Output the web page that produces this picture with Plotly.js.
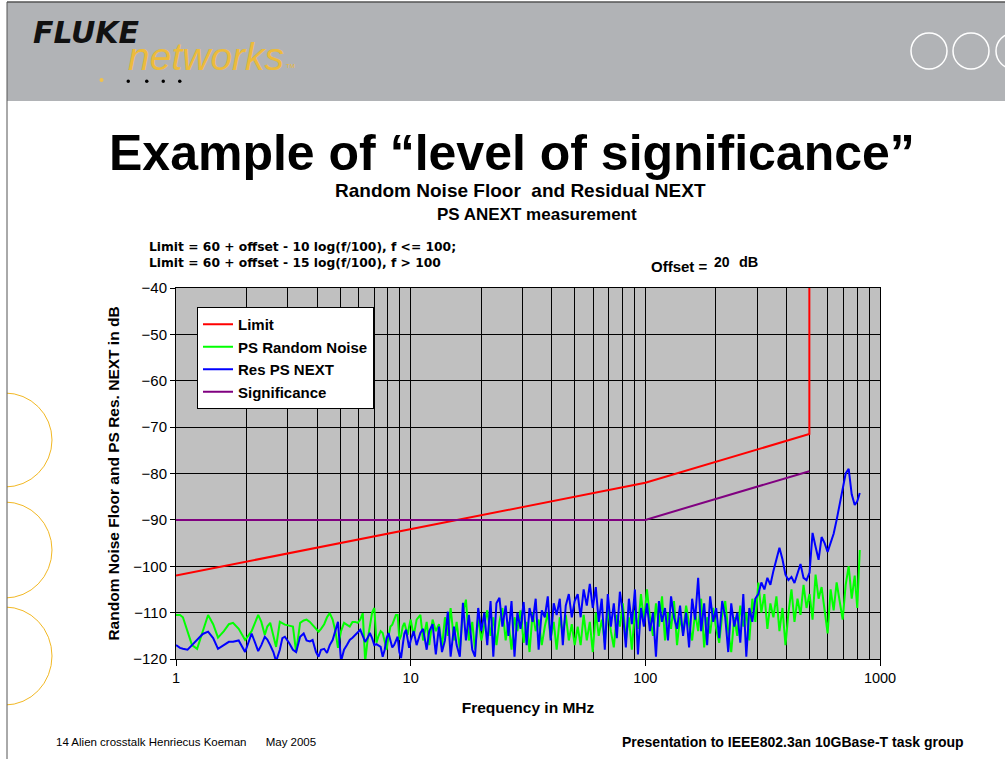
<!DOCTYPE html>
<html>
<head>
<meta charset="utf-8">
<script src="https://cdn.plot.ly/plotly-3.0.1.min.js"></script>
<style>html,body{margin:0;padding:0;background:#fff;}#chart{width:1005px;height:759px;}</style>
</head>
<body>
<div id="chart"></div>
<script>
// ---------------- DATA ----------------
const freqMHz = [
  1, 1.04, 1.07, 1.12, 1.17, 1.23, 1.3, 1.37, 1.44, 1.51,
  1.6, 1.68, 1.75, 1.85, 1.97, 2.1, 2.24, 2.31, 2.39, 2.45,
  2.52, 2.6, 2.67, 2.77, 2.84, 2.91, 3.03, 3.15, 3.25, 3.38,
  3.5, 3.6, 3.72, 3.82, 3.95, 4.05, 4.15, 4.28, 4.4, 4.52,
  4.65, 4.78, 4.9, 5.05, 5.2, 5.35, 5.5, 5.65, 5.8, 5.95,
  6.1, 6.25, 6.4, 6.55, 6.7, 6.85, 7.0, 7.15, 7.3, 7.45,
  7.6, 7.75, 7.9, 8.05, 8.2, 8.35, 8.5, 8.65, 8.8, 8.95,
  9.1, 9.25, 9.4, 9.55, 9.7, 9.85, 10,
  10.3, 10.6, 11, 11.3, 11.7, 12, 12.4, 12.8, 13.2, 13.6,
  14, 14.4, 14.8, 15.3, 15.7, 16.2, 16.7, 17.2, 17.7, 18.3,
  18.8, 19.4, 20,
  20.6, 21.2, 21.9, 22.5, 23.2, 23.9, 24.6, 25.4, 26.1, 26.9,
  27.7, 28.5, 29.4, 30.3, 31.2, 32.1, 33.1, 34.1, 35.1, 36.2,
  37.3, 38.4, 39.5, 40.7, 41.9, 43.2, 44.5, 45.8, 47.2, 48.6,
  50,
  51.5, 53, 54.6, 56.3, 58, 59.7, 61.5, 63.3, 65.2, 67.2,
  69.2, 71.3, 73.4, 75.6, 77.9, 80.2, 82.6, 85.1, 87.6, 90.3,
  93, 95.8, 98.6,
  101.6, 104.6, 107.8, 111, 114.3, 117.8, 121.3, 124.9, 128.7, 132.5,
  136.5, 140.6, 144.8, 149.2, 153.6, 158.3, 163, 167.9, 172.9, 178.1,
  183.4, 188.9, 194.6, 200.4, 206.4, 212.6, 219, 225.6, 232.3, 239.3,
  246.5, 253.9, 261.5, 269.3, 277.4, 285.7, 294.3,
  303.1, 312.2, 321.6, 331.2, 341.1, 351.4, 361.9, 372.8, 384, 395.5,
  407.3, 419.5, 432.1, 445.1, 458.4, 472.2, 486.3, 500.9, 515.9, 531.4,
  547.4, 563.8, 580.7, 598.1, 616, 634.5, 653.5, 673.1, 693.3, 714.1,
  735.5, 757.6, 780.3, 800, 820
];

const psRandomNoise = [
  -110.5, -110.5, -111, -114, -117, -117.8, -114, -110.5, -112.5, -115.4,
  -114, -112.5, -112.2, -113.5, -115.9, -114, -110.5, -112, -114.8, -113,
  -112.2, -115, -117.4, -112, -112.3, -112.6, -112.8, -113, -118.5, -112.2,
  -111.7, -111.5, -112, -112.6, -113.5, -114.1, -113.5, -112.5, -111, -110.1,
  -111.5, -114, -117.6, -114, -112.2, -112.6, -113, -112, -112, -112.2,
  -111.5, -110.1, -120.5, -116, -113, -110, -109, -116.5, -115, -114,
  -114.4, -116, -118, -115, -113, -112.6, -111.5, -110.5, -110.5, -115.9,
  -115, -113, -112.2, -113.5, -114.8, -113, -111.5,
  -115, -111.5, -110.5, -116, -112, -117, -111.5, -114, -112.5, -117.5,
  -111, -115, -109, -116, -112, -118, -110, -107.2, -116, -112,
  -118, -111, -116,
  -113, -109.5, -115, -111, -117, -112, -109, -116, -112, -118,
  -111, -114, -109.5, -116.5, -112, -118.5, -110, -114, -111.5, -117,
  -113, -110, -115.5, -112, -118, -111, -114.5, -110.5, -116, -112.5,
  -117,
  -113, -117, -110.5, -116, -112, -118.5, -110, -115, -111.5, -116.5,
  -109, -114, -117.5, -110.5, -113, -108, -116, -111, -118, -109.5,
  -113.5, -106, -112,
  -105, -111, -115, -108, -113, -106.5, -116, -110, -113.5, -107.5,
  -117, -111, -114.5, -108.5, -112.5, -116, -110, -114, -107, -117.5,
  -111, -114.5, -109, -113.5, -116.5, -110.5, -107.5, -114, -118.5, -111,
  -115, -108.5, -113, -110, -116, -107, -112,
  -103.5, -110, -106, -113.5, -108, -111, -106.5, -114, -109, -117,
  -110, -105, -112, -107, -110.5, -104, -109, -106, -111.5, -101.8,
  -107, -104.5, -110, -114.5, -105, -109.5, -103.5, -108, -111.5, -104,
  -100, -107, -102, -109, -96.5
];

const resPsNext = [
  -117, -117.6, -117.8, -118, -117, -115.8, -114.6, -114.1, -115.5, -117.8,
  -117, -116.3, -116.3, -116, -118.5, -114.5, -118.3, -117, -115.2, -115.8,
  -117, -118.5, -120.5, -118, -115.5, -115.2, -116.5, -118, -118.5, -115.2,
  -114.5, -116, -116.2, -115.9, -118.5, -119.5, -118, -117.8, -118.7, -117,
  -115.9, -113.5, -112, -120.5, -118, -117, -115.9, -115.4, -114.8, -114.2,
  -113.7, -115, -116.3, -115.5, -114.4, -115.5, -117, -116.8, -117.2, -117.4,
  -119.5, -118, -115.5, -114.4, -116, -117.5, -117, -116, -115.2, -118.5,
  -119.8, -117, -114.5, -113.7, -116, -117.6, -116,
  -114, -117, -114.4, -113.5, -118, -114, -112.5, -119, -113, -118.5,
  -116, -109.8, -119.5, -113, -117, -119.5, -107.9, -116, -110.5, -118,
  -119.5, -109, -114,
  -110, -117, -107.5, -119.5, -108, -106.8, -113, -108.5, -115, -107.5,
  -119.5, -110, -113.5, -107.7, -117, -109, -112, -107, -118, -109.5,
  -111, -106.5, -116, -108, -110.5, -107, -117, -108.5, -106, -111,
  -107.5,
  -106, -111, -105, -108.5, -103.8, -109, -104.5, -112, -107, -118,
  -106, -113, -108, -115.5, -105.5, -110, -117.5, -107, -112.5, -105,
  -119, -109, -113,
  -108, -114, -110, -119.5, -107.5, -112, -109, -116, -106.5, -111,
  -113.5, -108.5, -115, -110, -117.5, -107, -111.5, -102.5, -114, -108,
  -117, -106.5, -112, -109, -115.5, -107.5, -111, -118.5, -108, -113,
  -110, -116.5, -106, -119.5, -109, -112, -107,
  -106, -103.5, -105, -102.5, -104, -101, -98.5, -96, -98.5, -101.8,
  -103, -102.3, -103.6, -101.5, -99.5, -102.5, -103, -101.4, -92.8, -95.8,
  -98.6, -93.7, -95, -96.9, -95, -93, -90, -86.5, -83.5, -80,
  -79, -84.5, -86.8, -86, -84.2
];

// Limit = 60 + offset - 10 log(f/100) (f<=100), -15 log(f/100) (f>100); offset = 20 dB
const limitFreq = [1, 100, 500, 500];
const limitDb = [-102, -82, -71.5, -30];
const signifFreq = [1, 100, 500];
const signifDb = [-90, -90, -79.5];

const seriesNames = ['Limit', 'PS Random Noise', 'Res PS NEXT', 'Significance'];
const seriesColors = ['#ff0000', '#00ff00', '#0000ff', '#800080'];

const xTickVals = [1, 10, 100, 1000];
const xTickText = ['1', '10', '100', '1000'];
const xMinorVals = [2,3,4,5,6,7,8,9,20,30,40,50,60,70,80,90,200,300,400,500,600,700,800,900];
const yTickVals = [-40, -50, -60, -70, -80, -90, -100, -110, -120];

// ---------------- LAYOUT HELPERS (page pixels -> paper coords) ----------------
const PL = 176, PR = 880, PT = 288, PB = 659;
const fx = p => (p - PL) / (PR - PL);
const fy = p => (PB - p) / (PB - PT);
const FONT = '"Liberation Sans", Arial, sans-serif';
const WIDE = '"DejaVu Sans", "Liberation Sans", sans-serif';

const traces = [
  {x: limitFreq, y: limitDb, name: '<b>' + seriesNames[0] + '</b>', mode: 'lines', line: {color: seriesColors[0], width: 2}, legendgroup: 'a'},
  {x: freqMHz, y: psRandomNoise, name: '<b>' + seriesNames[1] + '</b>', mode: 'lines', line: {color: seriesColors[1], width: 2}, legendgroup: 'b'},
  {x: freqMHz, y: resPsNext, name: '<b>' + seriesNames[2] + '</b>', mode: 'lines', line: {color: seriesColors[2], width: 2}, legendgroup: 'c'},
  {x: signifFreq, y: signifDb, name: '<b>' + seriesNames[3] + '</b>', mode: 'lines', line: {color: seriesColors[3], width: 2}, legendgroup: 'd'}
];

const shapes = [
  // header band
  {type: 'rect', xref: 'paper', yref: 'paper', x0: fx(7), x1: fx(1010), y0: fy(2), y1: fy(101), fillcolor: '#b1b3b6', line: {width: 0}, layer: 'below'},
  {type: 'line', xref: 'paper', yref: 'paper', x0: fx(7), x1: fx(1010), y0: fy(2), y1: fy(2), line: {color: '#555', width: 1.5}},
  // white rings top right
  {type: 'circle', xref: 'paper', yref: 'paper', x0: fx(911), x1: fx(947), y0: fy(33), y1: fy(69), line: {color: '#fff', width: 1.5}},
  {type: 'circle', xref: 'paper', yref: 'paper', x0: fx(953), x1: fx(989), y0: fy(33), y1: fy(69), line: {color: '#fff', width: 1.5}},
  {type: 'circle', xref: 'paper', yref: 'paper', x0: fx(996), x1: fx(1032), y0: fy(33), y1: fy(69), line: {color: '#fff', width: 1.5}},
  // logo dots
  {type: 'circle', xref: 'paper', yref: 'paper', x0: fx(99.5), x1: fx(103.5), y0: fy(78), y1: fy(82), fillcolor: '#f2c24a', line: {width: 0}},
  {type: 'circle', xref: 'paper', yref: 'paper', x0: fx(126.5), x1: fx(130), y0: fy(79.5), y1: fy(83), fillcolor: '#000', line: {width: 0}},
  {type: 'circle', xref: 'paper', yref: 'paper', x0: fx(145), x1: fx(148.5), y0: fy(79.5), y1: fy(83), fillcolor: '#000', line: {width: 0}},
  {type: 'circle', xref: 'paper', yref: 'paper', x0: fx(161.5), x1: fx(165), y0: fy(79.5), y1: fy(83), fillcolor: '#000', line: {width: 0}},
  {type: 'circle', xref: 'paper', yref: 'paper', x0: fx(178), x1: fx(181.5), y0: fy(79.5), y1: fy(83), fillcolor: '#000', line: {width: 0}},
  // orange arcs on left
  {type: 'circle', xref: 'paper', yref: 'paper', x0: fx(-42), x1: fx(52), y0: fy(393), y1: fy(487), line: {color: '#f2b824', width: 1}},
  {type: 'circle', xref: 'paper', yref: 'paper', x0: fx(-42), x1: fx(52), y0: fy(502), y1: fy(598), line: {color: '#f2b824', width: 1}},
  {type: 'circle', xref: 'paper', yref: 'paper', x0: fx(-42), x1: fx(52), y0: fy(607), y1: fy(705), line: {color: '#f2b824', width: 1}},
  {type: 'rect', xref: 'paper', yref: 'paper', x0: fx(-5), x1: fx(7), y0: fy(102), y1: fy(765), fillcolor: '#fff', line: {width: 0}},
  // page left border
  {type: 'line', xref: 'paper', yref: 'paper', x0: fx(7), x1: fx(7), y0: fy(2), y1: fy(765), line: {color: '#555', width: 1}}
];

const ann = (text, x, y, size, opts) => Object.assign({
  text: text, xref: 'paper', yref: 'paper', x: fx(x), y: fy(y), showarrow: false,
  xanchor: 'left', yanchor: 'middle', font: {family: FONT, size: size, color: '#000'}
}, opts || {});

const annotations = [
  ann('<b><i>FLUKE</i></b>', 31, 33, 30, {font: {family: WIDE, size: 30, color: '#111'}}),
  ann('<i>networks</i>', 126, 57, 39, {font: {family: FONT, size: 39, color: '#ecbb3c'}}),
  ann('TM', 284, 66, 6, {font: {family: FONT, size: 6, color: '#ecbb3c'}}),
  ann('<b>Example of “level of significance”</b>', 512, 153, 50, {xanchor: 'center'}),
  ann('<b>Random Noise Floor  and Residual NEXT</b>', 520, 190, 19, {xanchor: 'center'}),
  ann('<b>PS ANEXT measurement</b>', 537, 214, 17, {xanchor: 'center'}),
  ann('<b>Limit = 60 + offset - 10 log(f/100), f <= 100;<br>Limit = 60 + offset - 15 log(f/100), f > 100</b>', 147, 255, 12.3,
      {align: 'left', font: {family: WIDE, size: 12.3, color: '#000'}}),
  ann('<b>Offset =</b>', 649, 266, 15),
  ann('<b>20</b>', 712, 262, 14),
  ann('<b>dB</b>', 737, 262, 14.5),
  ann('14 Alien crosstalk Henriecus Koeman      May 2005', 54, 742, 11.5),
  ann('<b>Presentation to IEEE802.3an 10GBase-T task group</b>', 966, 742, 14, {xanchor: 'right'})
];

const layout = {
  width: 1005, height: 759,
  margin: {l: PL, r: 1005 - PR, t: PT, b: 759 - PB, pad: 0},
  paper_bgcolor: '#ffffff',
  plot_bgcolor: '#c0c0c0',
  font: {family: FONT, size: 14, color: '#000'},
  showlegend: true,
  legend: {
    x: fx(197), y: fy(307), xanchor: 'left', yanchor: 'top',
    bgcolor: '#ffffff', bordercolor: '#000', borderwidth: 1,
    font: {family: FONT, size: 15, color: '#000'},
    tracegroupgap: 9, traceorder: 'normal',
    entrywidth: 150, entrywidthmode: 'pixels'
  },
  xaxis: {
    type: 'log', range: [0, 3],
    tickmode: 'array', tickvals: xTickVals, ticktext: xTickText,
    ticks: 'outside', ticklen: 6, tickcolor: '#000', tickwidth: 1,
    showgrid: true, gridcolor: '#000', gridwidth: 1,
    showline: true, linecolor: '#000', linewidth: 1, mirror: true,
    zeroline: false,
    tickfont: {family: FONT, size: 14.5, color: '#000'},
    minor: {tickmode: 'array', tickvals: xMinorVals, showgrid: true, gridcolor: '#000', gridwidth: 1, ticks: ''},
    title: {text: '<b>Frequency in MHz</b>', font: {family: FONT, size: 15.5, color: '#000'}, standoff: 16}
  },
  yaxis: {
    range: [-120, -40],
    tickmode: 'array', tickvals: yTickVals,
    ticks: 'outside', ticklen: 5, tickcolor: '#000', tickwidth: 1,
    showgrid: true, gridcolor: '#000', gridwidth: 1,
    showline: true, linecolor: '#000', linewidth: 1, mirror: true,
    zeroline: false,
    tickfont: {family: FONT, size: 15, color: '#000'},
    title: {text: '<b>Random Noise Floor and PS Res. NEXT in dB</b>', font: {family: FONT, size: 15.5, color: '#000'}, standoff: 9}
  },
  shapes: shapes,
  annotations: annotations
};

Plotly.newPlot('chart', traces, layout, {displayModeBar: false, staticPlot: true});
</script>
</body>
</html>
